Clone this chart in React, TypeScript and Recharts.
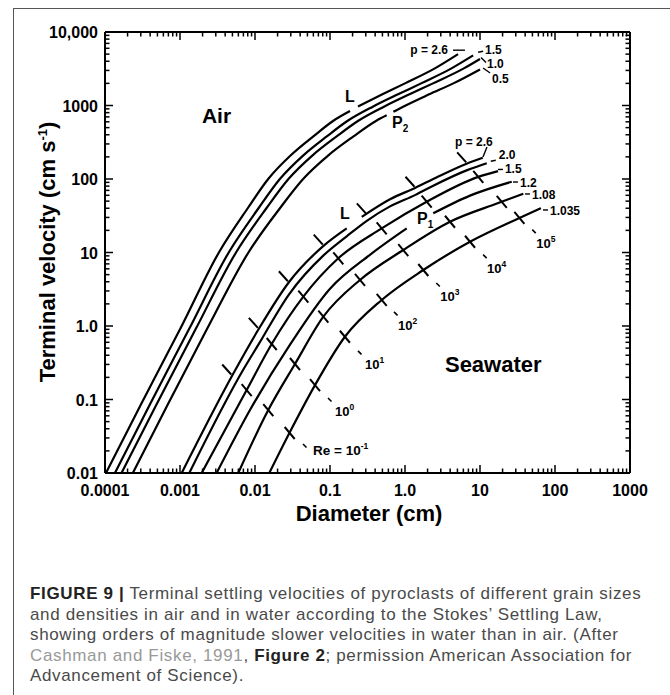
import { LineChart, Line, XAxis, YAxis, ReferenceDot } from "recharts";

const FONT = '"Liberation Sans", Arial, Helvetica, sans-serif';

// axis decades and tick labels
const xMajors = [0.0001, 0.001, 0.01, 0.1, 1, 10, 100, 1000];
const xTickLabels = ["0.0001", "0.001", "0.01", "0.1", "1.0", "10", "100", "1000"];
const yMajors = [0.01, 0.1, 1, 10, 100, 1000, 10000];
const yTickLabels = ["0.01", "0.1", "1.0", "10", "100", "1000", "10,000"];
const minorSteps = [2, 3, 4, 5, 6, 7, 8, 9];

// air curves, [diameter cm, velocity cm/s]
const air26a = [[1.03e-4, 0.01], [3.0e-4, 0.085], [1.0e-3, 0.9], [3.3e-3, 10], [8.0e-3, 40], [0.015, 100], [0.03, 210], [0.06, 380], [0.111, 620], [0.185, 840]];
const air26b = [[0.236, 970], [0.5, 1420], [1.0, 2000], [2.5, 3200], [5.1, 5000]];
const air15 = [[1.356e-4, 0.01], [3.95e-4, 0.085], [1.316e-3, 0.9], [4.46e-3, 10], [0.01113, 40], [0.02145, 100], [0.0441, 210], [0.0906, 380], [0.1723, 620], [0.377, 970], [0.807, 1420], [1.64, 2000], [4.17, 3200], [8.1, 4800]];
const air10 = [[1.66e-4, 0.01], [4.84e-4, 0.085], [1.612e-3, 0.9], [5.58e-3, 10], [0.01419, 40], [0.02793, 100], [0.05856, 210], [0.1228, 380], [0.2384, 620], [0.5317, 970], [1.149, 1420], [2.363, 2000], [6.09, 3200], [10, 4300]];
const air05a = [[2.35e-4, 0.01], [6.84e-4, 0.085], [2.28e-3, 0.9], [8.17e-3, 10], [0.0215, 40], [0.0438, 100], [0.0951, 210], [0.206, 380], [0.415, 620], [0.57, 735]];
const air05b = [[0.7, 820], [0.958, 970], [2.1, 1420], [4.41, 2000], [10, 3100]];

// seawater curves
const sw26a = [[1.054e-3, 0.01], [4.97e-3, 0.212], [0.01125, 0.916], [0.0283, 3.94], [0.0826, 12.4], [0.167, 21.3]];
const sw26b = [[0.265, 30.5], [0.631, 53], [1.38, 76], [2.38, 100], [6.75, 163], [10.9, 195]];
const sw20 = [[1.33e-3, 0.01], [6.9e-3, 0.25], [0.01125, 0.57], [0.0283, 2.68], [0.0826, 9.2], [0.167, 16.6], [0.313, 27.2], [0.631, 42.4], [1.38, 60.8], [2.38, 81], [6.75, 132], [12.3, 164]];
const sw15 = [[1.945e-3, 0.01], [7.74e-3, 0.1346], [0.0167, 0.569], [0.0441, 2.51], [0.129, 8.34], [0.489, 21.3], [1.945, 49.1], [9.48, 107], [17.4, 128]];
const sw12a = [[3.08e-3, 0.01], [8.57e-3, 0.0719], [0.0293, 0.558], [0.1, 3.22], [0.341, 9.31], [1.054, 21.3]];
const sw12b = [[2.38, 34.1], [7.36, 59.4], [26.5, 91.8]];
const sw108 = [[5.98e-3, 0.01], [0.01503, 0.0719], [0.0341, 0.304], [0.0815, 1.34], [0.251, 4.23], [0.948, 10.8], [3.98, 26.2], [17.5, 47.1], [37.8, 63]];
const sw1035 = [[0.0155, 0.01], [0.031, 0.0406], [0.0631, 0.157], [0.158, 0.714], [0.489, 2.26], [1.754, 5.78], [7.36, 14.0], [32.4, 29], [65, 40]];

// Reynolds number marks on the seawater curves (Re = 10^-1 ... 10^5)
const reTicks26 = [[4.97e-3, 0.212], [0.01125, 0.916], [0.0283, 3.94], [0.0826, 12.4], [0.31, 33], [1.38, 76], [6.75, 163]];
const reTicks15 = [[7.74e-3, 0.1346], [0.0167, 0.569], [0.0441, 2.51], [0.129, 8.34], [0.489, 21.3], [1.945, 49.1], [9.48, 107]];
const reTicks108 = [[0.01503, 0.0719], [0.0341, 0.304], [0.0815, 1.34], [0.251, 4.23], [0.948, 10.8], [3.98, 26.2], [19.5, 49]];
const reTicks1035 = [[0.029, 0.035], [0.0631, 0.157], [0.158, 0.714], [0.489, 2.26], [1.754, 5.78], [7.36, 14.0], [33.5, 29.5]];
const reExponents = ["-1", "0", "1", "2", "3", "4", "5"];
const reLabelAt = [[0.0464, 0.0233], [0.1, 0.0985], [0.251, 0.43], [0.759, 1.46], [2.78, 3.61], [11.7, 8.77], [52.9, 19.2]];

// density labels at curve ends
const rhoLabels = ["p = 2.6", "1.5", "1.0", "0.5", "p = 2.6", "2.0", "1.5", "1.2", "1.08", "1.035"];
const rhoLabelAt = [[3.74, 4990], [11.7, 4990], [12.4, 3280], [14.5, 2023], [4.64, 282], [17.8, 186], [21.5, 119], [34.1, 77.8], [49.4, 53.5], [85.8, 32.4]];

const pts = (a: number[][]) => a.map(([d, v]) => ({ d, v }));
const isMajor = (v: number) => Math.abs(Math.log10(v) - Math.round(Math.log10(v))) < 1e-6;
const withMinor = (majors: number[]) =>
  majors.flatMap((m, i) => (i === majors.length - 1 ? [m] : [m, ...minorSteps.map((s) => s * m)]));
const labelFor = (majors: number[], labels: string[], v: number) =>
  labels[majors.findIndex((m) => Math.abs(Math.log10(m) - Math.log10(v)) < 1e-6)];

const xTicks = withMinor(xMajors);
const yTicks = withMinor(yMajors);

type Side = "bottom" | "top" | "left" | "right";

function axisTick(side: Side) {
  return (props: any) => {
    const { x, y, payload } = props;
    const v = payload.value;
    const major = isMajor(v);
    const len = major ? 8 : 4.5;
    const dx = side === "left" ? len : side === "right" ? -len : 0;
    const dy = side === "bottom" ? -len : side === "top" ? len : 0;
    return (
      <g>
        <line x1={x} y1={y} x2={x + dx} y2={y + dy} stroke="#000" strokeWidth={1.5} />
        {major && side === "bottom" && (
          <text x={x} y={y + 23} textAnchor="middle" fontSize={16} fontWeight="bold" fontFamily={FONT} fill="#000">
            {labelFor(xMajors, xTickLabels, v)}
          </text>
        )}
        {major && side === "left" && (
          <text x={x - 7} y={y + 6} textAnchor="end" fontSize={16} fontWeight="bold" fontFamily={FONT} fill="#000">
            {labelFor(yMajors, yTickLabels, v)}
          </text>
        )}
      </g>
    );
  };
}

const labelStyle = { fontFamily: FONT, fontWeight: "bold" as const, fill: "#000" };

// little connector strokes next to the density labels (px offsets from label anchor)
const rhoLinks = [
  [5, -4, 17, -4],
  [-7, -2, -2, -3],
  [-6, -10, -1, -5],
  [-9, -15, -2, -10],
  [28, 11, 32, 1],
  [-8, 2, -3, 1],
  [-7, -4, -2, -4],
  [-7, -5, -2, -5],
  [-7, -5, -2, -5],
  [-7, -5, -2, -5],
];

const AXIS = 20;

export default function App() {
  const curves = [air26a, air26b, air15, air10, air05a, air05b, sw26a, sw26b, sw20, sw15, sw12a, sw12b, sw108, sw1035];
  const fullTicks = [...reTicks15, ...reTicks108, ...reTicks1035];
  const axisCommon = {
    type: "number" as const,
    scale: "log" as const,
    allowDataOverflow: true,
    interval: 0 as const,
    tickSize: 0,
    tickMargin: 0,
    tickLine: false,
    axisLine: { stroke: "#000", strokeWidth: 2 },
  };

  return (
    <div style={{ position: "absolute", left: 0, top: 0, width: 670, height: 695, overflow: "hidden", background: "#fff" }}>
      <div
        style={{
          position: "absolute",
          left: 13,
          top: 8,
          width: 700,
          height: 720,
          borderLeft: "1px solid #555",
          borderTop: "1px solid #555",
        }}
      />
      <div style={{ position: "absolute", left: 0, top: 0 }}>
        <LineChart
          width={670}
          height={540}
          margin={{ top: 32 - AXIS, right: 40 - AXIS, bottom: 67 - AXIS, left: 105 - AXIS }}
        >
          <XAxis {...axisCommon} dataKey="d" domain={[0.0001, 1000]} ticks={xTicks} height={AXIS} tick={axisTick("bottom")} />
          <XAxis
            {...axisCommon}
            xAxisId="top"
            orientation="top"
            dataKey="d"
            domain={[0.0001, 1000]}
            ticks={xTicks}
            height={AXIS}
            tick={axisTick("top")}
          />
          <YAxis {...axisCommon} domain={[0.01, 10000]} ticks={yTicks} width={AXIS} tick={axisTick("left")} />
          <YAxis
            {...axisCommon}
            yAxisId="right"
            orientation="right"
            domain={[0.01, 10000]}
            ticks={yTicks}
            width={AXIS}
            tick={axisTick("right")}
          />

          {curves.map((c, i) => (
            <Line
              key={`c${i}`}
              data={pts(c)}
              dataKey="v"
              type="monotone"
              stroke="#000"
              strokeWidth={2.2}
              dot={false}
              activeDot={false}
              isAnimationActive={false}
            />
          ))}

          {reTicks26.map(([d, v], i) => (
            <ReferenceDot
              key={`t26${i}`}
              x={d}
              y={v}
              r={0}
              ifOverflow="visible"
              shape={(p: any) => <line x1={p.cx - 1} y1={p.cy - 1} x2={p.cx - 10} y2={p.cy - 11} stroke="#000" strokeWidth={2} />}
            />
          ))}
          {fullTicks.map(([d, v], i) => (
            <ReferenceDot
              key={`tf${i}`}
              x={d}
              y={v}
              r={0}
              ifOverflow="visible"
              shape={(p: any) => <line x1={p.cx - 5} y1={p.cy - 6} x2={p.cx + 5} y2={p.cy + 6} stroke="#000" strokeWidth={2} />}
            />
          ))}

          {reLabelAt.map(([d, v], i) => (
            <ReferenceDot
              key={`re${i}`}
              x={d}
              y={v}
              r={0}
              ifOverflow="visible"
              shape={(p: any) => (
                <g>
                  <line x1={p.cx - 2} y1={p.cy - 2} x2={p.cx + 1.5} y2={p.cy + 1.5} stroke="#000" strokeWidth={1.6} />
                  {i === 0 ? (
                    <text x={p.cx + 8} y={p.cy + 9} fontSize={13.5} {...labelStyle}>
                      Re = 10<tspan dy={-6} fontSize={8.5}>{reExponents[i]}</tspan>
                    </text>
                  ) : (
                    <text x={p.cx + (i < 3 ? 5 : 2)} y={p.cy + 16} fontSize={13} {...labelStyle}>
                      10<tspan dy={-6} fontSize={8.5}>{reExponents[i]}</tspan>
                    </text>
                  )}
                </g>
              )}
            />
          ))}

          {rhoLabelAt.map(([d, v], i) => (
            <ReferenceDot
              key={`rho${i}`}
              x={d}
              y={v}
              r={0}
              ifOverflow="visible"
              shape={(p: any) => {
                const [a, b, c, e] = rhoLinks[i];
                return (
                  <g>
                    <line x1={p.cx + a} y1={p.cy + b} x2={p.cx + c} y2={p.cy + e} stroke="#000" strokeWidth={1.4} />
                    <text x={p.cx} y={p.cy} fontSize={12} textAnchor={i === 0 ? "end" : "start"} {...labelStyle}>
                      {rhoLabels[i]}
                    </text>
                  </g>
                );
              }}
            />
          ))}

          <ReferenceDot x={0.158} y={1117} r={0} ifOverflow="visible"
            shape={(p: any) => <text x={p.cx} y={p.cy} fontSize={16} {...labelStyle}>L</text>} />
          <ReferenceDot x={0.671} y={494} r={0} ifOverflow="visible"
            shape={(p: any) => (
              <text x={p.cx} y={p.cy} fontSize={16} {...labelStyle}>
                P<tspan dy={4} fontSize={10}>2</tspan>
              </text>
            )} />
          <ReferenceDot x={0.136} y={28.6} r={0} ifOverflow="visible"
            shape={(p: any) => <text x={p.cx} y={p.cy} fontSize={16} {...labelStyle}>L</text>} />
          <ReferenceDot x={1.445} y={24.4} r={0} ifOverflow="visible"
            shape={(p: any) => (
              <text x={p.cx} y={p.cy} fontSize={16} {...labelStyle}>
                P<tspan dy={4} fontSize={10}>1</tspan>
              </text>
            )} />
          <ReferenceDot x={1.96e-3} y={578} r={0} ifOverflow="visible"
            shape={(p: any) => <text x={p.cx} y={p.cy} fontSize={21} {...labelStyle}>Air</text>} />
          <ReferenceDot x={3.41} y={0.237} r={0} ifOverflow="visible"
            shape={(p: any) => <text x={p.cx} y={p.cy} fontSize={22} {...labelStyle}>Seawater</text>} />
        </LineChart>
      </div>

      <svg width={670} height={540} style={{ position: "absolute", left: 0, top: 0, pointerEvents: "none" }}>
        <text transform="translate(55,252) rotate(-90)" textAnchor="middle" fontSize={22} {...labelStyle}>
          Terminal velocity (cm s<tspan dy={-8} fontSize={13}>-1</tspan>
          <tspan dy={8}>)</tspan>
        </text>
        <text x={369} y={521} textAnchor="middle" fontSize={22} {...labelStyle}>
          Diameter (cm)
        </text>
      </svg>

      <div
        style={{
          position: "absolute",
          left: 30,
          top: 584,
          fontFamily: FONT,
          fontSize: 17,
          letterSpacing: "0.65px",
          lineHeight: "20.5px",
          color: "#4a4a4a",
          whiteSpace: "nowrap",
        }}
      >
        <div>
          <b style={{ color: "#222" }}>FIGURE 9 |</b> Terminal settling velocities of pyroclasts of different grain sizes
        </div>
        <div>and densities in air and in water according to the Stokes’ Settling Law,</div>
        <div>showing orders of magnitude slower velocities in water than in air. (After</div>
        <div>
          <span style={{ color: "#999" }}>Cashman and Fiske, 1991</span>, <b style={{ color: "#222" }}>Figure 2</b>; permission American Association for
        </div>
        <div>Advancement of Science).</div>
      </div>
    </div>
  );
}
